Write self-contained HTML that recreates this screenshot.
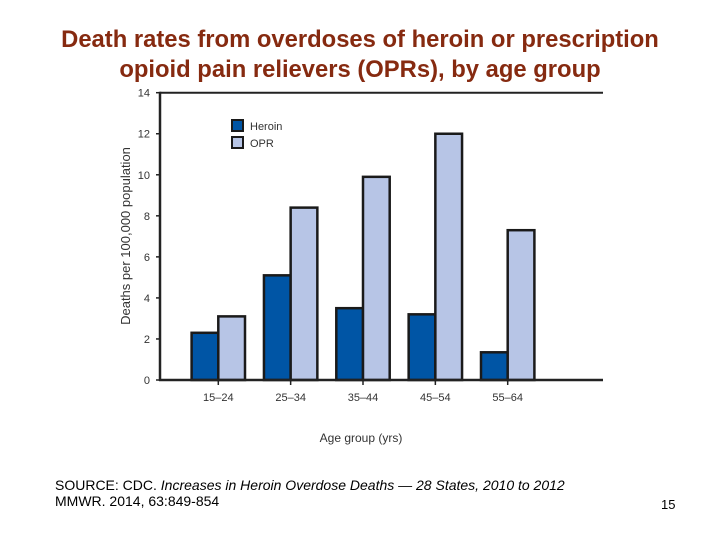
<!DOCTYPE html>
<html><head><meta charset="utf-8"><style>
body{margin:0;background:#fff;width:720px;height:540px;overflow:hidden;font-family:"Liberation Sans",sans-serif}
.t{position:absolute;left:0;width:720px;text-align:center;color:#862a10;font-size:23.8px;font-weight:bold;line-height:30px}
.s{position:absolute;left:55px;top:477px;font-size:14px;line-height:16px;color:#000}
</style></head><body>
<div class="t" style="top:25px">Death rates from overdoses of heroin or prescription<br>opioid pain relievers (OPRs), by age group</div>
<svg width="720" height="540" style="position:absolute;left:0;top:0" id="c"></svg>
<div class="s">SOURCE: CDC. <i>Increases in Heroin Overdose Deaths — 28 States, 2010 to 2012</i><br>MMWR. 2014, 63:849-854</div>
<div style="position:absolute;left:661px;top:497px;font-size:13px">15</div>
<script>
const categories=["15–24","25–34","35–44","45–54","55–64"];
const heroin=[2.3,5.1,3.5,3.2,1.35];
const opr=[3.1,8.4,9.9,12.0,7.3];
const yTicks=[0,2,4,6,8,10,12,14];
const NS="http://www.w3.org/2000/svg";
const svg=document.getElementById('c');
const x0=160,x1=603,yb=380,yt=92.7,ymax=14;
const y=v=>yb-(v/ymax)*(yb-yt);
const xc=i=>218.3+i*72.35;
const bw=26.7;
function mk(t,a,p){const e=document.createElementNS(NS,t);for(const k in a)e.setAttribute(k,a[k]);(p||svg).appendChild(e);return e;}
let e;
e=mk('line',{x1:x0,y1:yt,x2:x1,y2:yt,stroke:'#222','stroke-width':2});


yTicks.forEach(v=>{
 e=mk('line',{x1:x0-4,y1:y(v),x2:x0,y2:y(v),stroke:'#222','stroke-width':1.5});
 
 
 e=mk('text',{x:x0-10,y:y(v)+4,'text-anchor':'end','font-size':11,fill:'#333'});e.textContent=v;
 
 
});
categories.forEach((c,i)=>{
 e=mk('rect',{x:xc(i)-bw,y:y(heroin[i]),width:bw,height:yb-y(heroin[i]),fill:'#0055a5',stroke:'#1a1a1a','stroke-width':2.5});
 
 
 e=mk('rect',{x:xc(i),y:y(opr[i]),width:bw,height:yb-y(opr[i]),fill:'#b7c5e6',stroke:'#1a1a1a','stroke-width':2.5});
 
 
 e=mk('line',{x1:xc(i),y1:yb,x2:xc(i),y2:yb+5,stroke:'#222','stroke-width':1.5});
 
 
 e=mk('text',{x:xc(i),y:yb+21,'text-anchor':'middle','font-size':11,fill:'#333'});e.textContent=c;
 
 
});
e=mk('line',{x1:x0,y1:yt-1,x2:x0,y2:yb+1,stroke:'#222','stroke-width':2.5});


e=mk('line',{x1:x0-1,y1:yb,x2:x1,y2:yb,stroke:'#222','stroke-width':2.5});


e=mk('text',{x:361,y:442,'text-anchor':'middle','font-size':12,fill:'#333'});e.textContent='Age group (yrs)';


e=mk('text',{x:0,y:0,'text-anchor':'middle','font-size':13,fill:'#333',transform:'translate(130,236) rotate(-90)'});e.textContent='Deaths per 100,000 population';


[['Heroin','#0055a5',120],['OPR','#b7c5e6',137]].forEach(l=>{
 e=mk('rect',{x:232,y:l[2],width:11,height:11,fill:l[1],stroke:'#1a1a1a','stroke-width':2});
 
 
 e=mk('text',{x:250,y:l[2]+10,'font-size':11,fill:'#333'});e.textContent=l[0];
 
 
});
</script>
</body></html>
